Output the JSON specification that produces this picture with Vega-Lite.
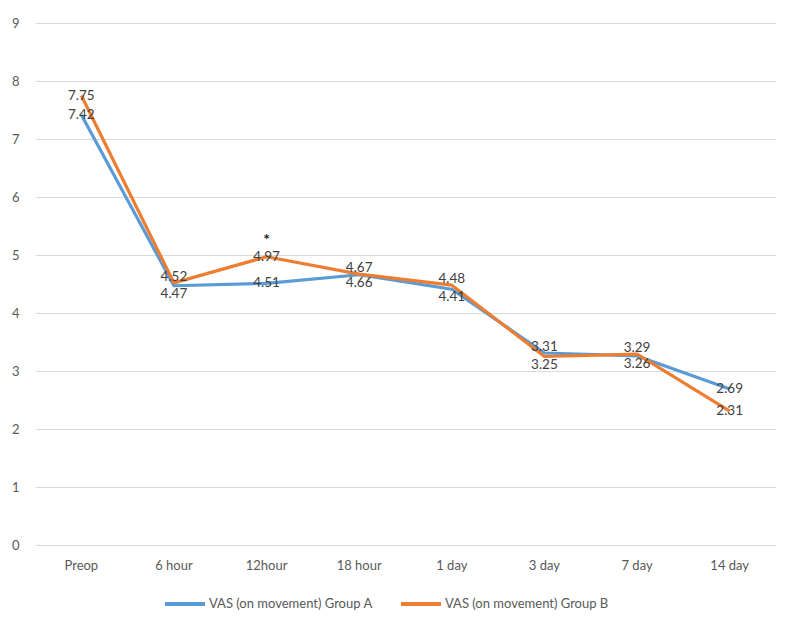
{
  "$schema": "https://vega.github.io/schema/vega-lite/v6.json",
  "description": "VAS on movement over time, Group A vs Group B",
  "width": 741,
  "height": 522,
  "autosize": {"type": "none"},
  "padding": {"left": 35, "top": 23, "right": 24, "bottom": 88},
  "background": "white",
  "config": {
    "view": {"stroke": null},
    "font": "Lato",
    "axis": {"labelColor": "#595959", "labelFontSize": 13, "domain": false, "ticks": false, "title": null}
  },
  "data": {
    "values": [
      {"time": "Preop", "group": "VAS (on movement) Group A", "value": 7.42},
      {"time": "6 hour", "group": "VAS (on movement) Group A", "value": 4.47},
      {"time": "12hour", "group": "VAS (on movement) Group A", "value": 4.51},
      {"time": "18 hour", "group": "VAS (on movement) Group A", "value": 4.66},
      {"time": "1 day", "group": "VAS (on movement) Group A", "value": 4.41},
      {"time": "3 day", "group": "VAS (on movement) Group A", "value": 3.31},
      {"time": "7 day", "group": "VAS (on movement) Group A", "value": 3.26},
      {"time": "14 day", "group": "VAS (on movement) Group A", "value": 2.69},
      {"time": "Preop", "group": "VAS (on movement) Group B", "value": 7.75},
      {"time": "6 hour", "group": "VAS (on movement) Group B", "value": 4.52},
      {"time": "12hour", "group": "VAS (on movement) Group B", "value": 4.97, "note": "*"},
      {"time": "18 hour", "group": "VAS (on movement) Group B", "value": 4.67},
      {"time": "1 day", "group": "VAS (on movement) Group B", "value": 4.48},
      {"time": "3 day", "group": "VAS (on movement) Group B", "value": 3.25},
      {"time": "7 day", "group": "VAS (on movement) Group B", "value": 3.29},
      {"time": "14 day", "group": "VAS (on movement) Group B", "value": 2.31}
    ]
  },
  "transform": [
    {"joinaggregate": [{"op": "max", "field": "value", "as": "vmax"}, {"op": "min", "field": "value", "as": "vmin"}], "groupby": ["time"]}
  ],
  "encoding": {
    "x": {
      "field": "time",
      "type": "nominal",
      "sort": ["Preop", "6 hour", "12hour", "18 hour", "1 day", "3 day", "7 day", "14 day"],
      "scale": {"type": "band", "paddingInner": 0, "paddingOuter": 0},
      "axis": {"labelAngle": 0, "labelPadding": 14, "grid": false}
    },
    "y": {
      "field": "value",
      "type": "quantitative",
      "scale": {"domain": [0, 9]},
      "axis": {"values": [0, 1, 2, 3, 4, 5, 6, 7, 8, 9], "grid": true, "gridColor": "#d9d9d9", "gridWidth": 1.2, "labelPadding": 16}
    }
  },
  "layer": [
    {
      "mark": {"type": "line", "strokeWidth": 3.2, "strokeJoin": "round"},
      "encoding": {
        "color": {
          "field": "group",
          "type": "nominal",
          "scale": {"range": ["#5B9BD5", "#ED7D31"]},
          "legend": {
            "title": null,
            "orient": "none",
            "legendX": 128,
            "legendY": 559,
            "direction": "horizontal",
            "symbolType": "stroke",
            "symbolSize": 1600,
            "symbolStrokeWidth": 4,
            "labelFontSize": 13,
            "labelColor": "#595959",
            "labelLimit": 0,
            "labelOffset": 2,
            "columnPadding": 20
          }
        }
      }
    },
    {
      "transform": [{"filter": "datum.vmax - datum.vmin >= 0.2"}],
      "mark": {"type": "text", "fontSize": 13.5, "color": "#404040", "baseline": "middle"},
      "encoding": {"text": {"field": "value", "type": "quantitative", "format": ".2f"}}
    },
    {
      "transform": [{"filter": "datum.vmax - datum.vmin < 0.2 && datum.value == datum.vmax"}],
      "mark": {"type": "text", "fontSize": 13.5, "color": "#404040", "baseline": "middle", "dy": -6},
      "encoding": {"text": {"field": "value", "type": "quantitative", "format": ".2f"}}
    },
    {
      "transform": [{"filter": "datum.vmax - datum.vmin < 0.2 && datum.value == datum.vmin"}],
      "mark": {"type": "text", "fontSize": 13.5, "color": "#404040", "baseline": "middle", "dy": 8},
      "encoding": {"text": {"field": "value", "type": "quantitative", "format": ".2f"}}
    },
    {
      "transform": [{"filter": "datum.note"}],
      "mark": {"type": "text", "fontSize": 16, "fontWeight": "bold", "color": "#222222", "baseline": "middle", "dy": -17},
      "encoding": {"text": {"field": "note"}}
    }
  ]
}
